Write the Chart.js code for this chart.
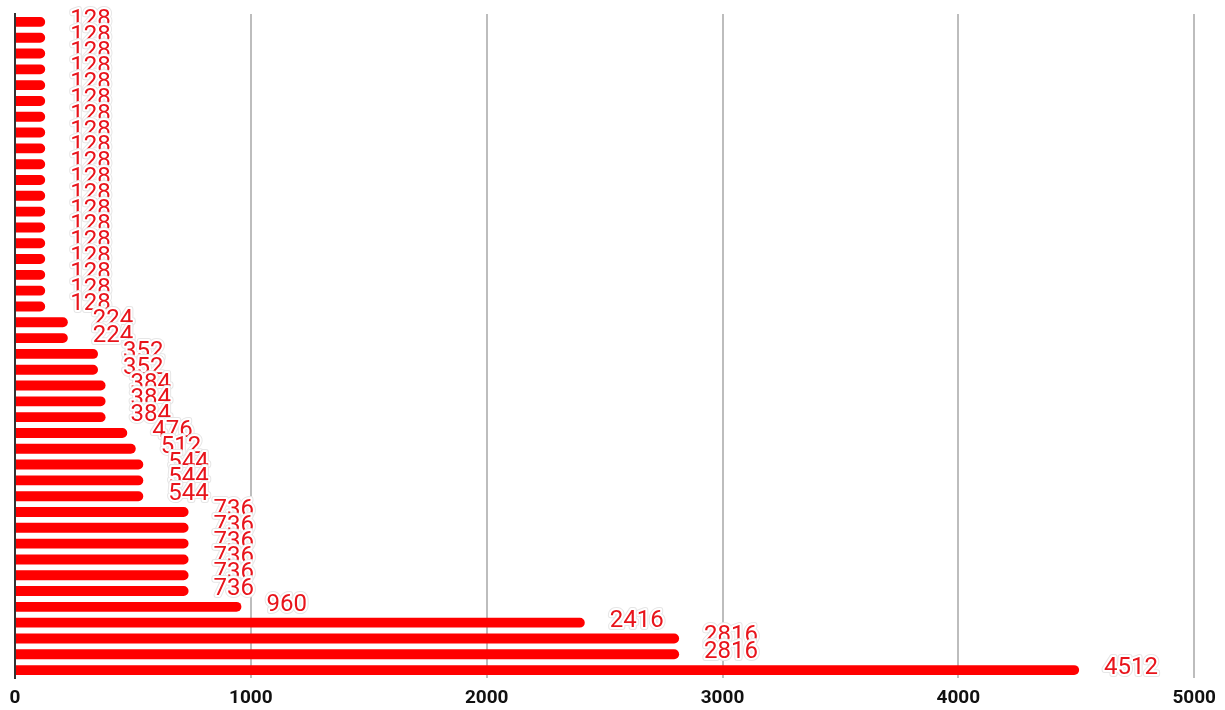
<!DOCTYPE html>
<html>
<head>
<meta charset="utf-8">
<script src="https://cdn.jsdelivr.net/npm/chart.js@4/dist/chart.umd.min.js"></script>
<style>
  html, body { margin: 0; padding: 0; background: #fff; }
  #wrap { width: 1225px; height: 710px; }
</style>
</head>
<body>
<div id="wrap"><canvas id="grafico"></canvas></div>
<script>
const valores = [
  128, 128, 128, 128, 128, 128, 128, 128, 128, 128,
  128, 128, 128, 128, 128, 128, 128, 128, 128,
  224, 224, 352, 352, 384, 384, 384, 476, 512, 544, 544, 544,
  736, 736, 736, 736, 736, 736, 960, 2416, 2816, 2816, 4512
];
const categorias = valores.map((v, i) => "item " + (i + 1));
const ticksX = [0, 1000, 2000, 3000, 4000, 5000];

// rótulos com contorno branco ao lado de cada barra
const rotulos = {
  id: "rotulos",
  afterDatasetsDraw(chart) {
    const ctx = chart.ctx;
    const meta = chart.getDatasetMeta(0);
    ctx.save();
    ctx.font = "24px Roboto";
    ctx.textAlign = "left";
    ctx.textBaseline = "middle";
    ctx.lineJoin = "round";
    meta.data.forEach((bar, i) => {
      const txt = String(valores[i]);
      const x = bar.x + 25;
      const y = bar.y - 2;
      ctx.strokeStyle = "#e6e6e6";
      ctx.lineWidth = 6;
      ctx.strokeText(txt, x, y);
      ctx.strokeStyle = "#fff";
      ctx.lineWidth = 4;
      ctx.strokeText(txt, x, y);
      ctx.fillStyle = "#e8141b";
      ctx.fillText(txt, x, y);
    });
    ctx.restore();
  }
};

new Chart(document.getElementById("grafico"), {
  type: "bar",
  data: {
    labels: categorias,
    datasets: [{
      data: valores,
      backgroundColor: "#ff0000",
      borderRadius: 6,
      borderSkipped: "start",
      barPercentage: 0.66,
      categoryPercentage: 0.95
    }]
  },
  options: {
    indexAxis: "y",
    responsive: true,
    maintainAspectRatio: false,
    animation: false,
    layout: { padding: { left: 7, right: 17, top: 14, bottom: 0 } },
    plugins: {
      legend: { display: false },
      tooltip: { enabled: false }
    },
    scales: {
      x: {
        min: 0,
        max: 5000,
        afterBuildTicks: axis => { axis.ticks = ticksX.map(v => ({ value: v })); },
        afterFit: axis => { axis.height = 32; },
        grid: { color: "#bdbdbd", lineWidth: 2, drawTicks: false },
        border: { display: false },
        ticks: {
          color: "#111",
          padding: 9,
          callback: v => String(v),
          font: { family: "Roboto", size: 19, weight: "bold" }
        }
      },
      y: {
        grid: { display: false },
        border: { display: true, color: "#333", width: 2 },
        ticks: { display: false }
      }
    }
  },
  plugins: [rotulos]
});
</script>
</body>
</html>
